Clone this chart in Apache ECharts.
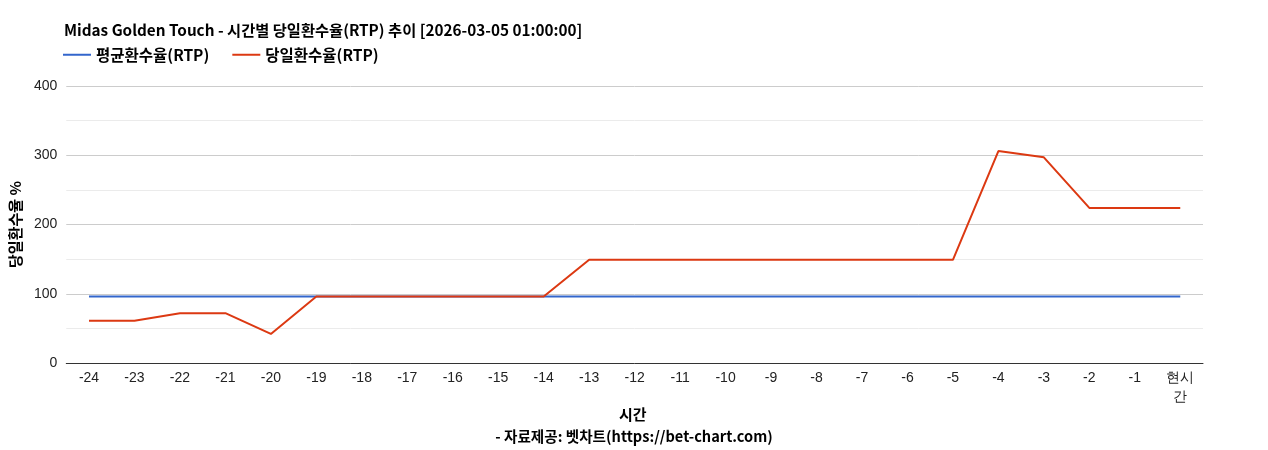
<!DOCTYPE html>
<html><head><meta charset="utf-8">
<script src="https://cdn.jsdelivr.net/npm/echarts@6/dist/echarts.min.js"></script>
<style>html,body{margin:0;padding:0;background:#fff}#c{width:1268px;height:450px}</style>
</head><body><div id="c"></div>
<script>
const categories = ['-24','-23','-22','-21','-20','-19','-18','-17','-16','-15','-14','-13','-12','-11','-10','-9','-8','-7','-6','-5','-4','-3','-2','-1','현시간'];
const avgRtp = [96,96,96,96,96,96,96,96,96,96,96,96,96,96,96,96,96,96,96,96,96,96,96,96,96];
const dailyRtp = [61,61,72,72,42,96,96,96,96,96,96,149,149,149,149,149,149,149,149,149,306,297,224,224,224];
const yTicks = [0,100,200,300,400];

const KR = '"Noto Sans CJK KR", "Noto Sans", sans-serif';
const AR = '"Liberation Sans", Arial, sans-serif';
const chart = echarts.init(document.getElementById('c'));
chart.setOption({
  animation: false,
  title: {
    text: 'Midas Golden Touch - 시간별 당일환수율(RTP) 추이 [2026-03-05 01:00:00]',
    left: 59, top: 18,
    textStyle: {fontFamily: KR, fontSize: 15.3, fontWeight: 'bold', color: '#000'}
  },
  legend: {
    left: 58, top: 42, itemWidth: 28, itemHeight: 2, itemGap: 23,
    icon: 'rect',
    textStyle: {fontFamily: KR, fontSize: 15.5, fontWeight: 'bold', color: '#000'},
    data: ['평균환수율(RTP)', '당일환수율(RTP)']
  },
  graphic: [{
    type: 'text', left: 619, top: 407,
    style: {text: '시간', font: 'bold 15px ' + KR, fill: '#000'}
  }, {
    type: 'text', left: 'center', top: 429,
    style: {text: '- 자료제공: 벳차트(https://bet-chart.com)', font: 'bold 14.6px ' + KR, fill: '#000'}
  }],
  grid: {left: 63, right: 65, top: 86, bottom: 87},
  xAxis: {
    type: 'category', data: categories, boundaryGap: true,
    axisLine: {lineStyle: {color: '#333', width: 1}},
    axisTick: {show: false},
    axisLabel: {
      interval: 0, fontFamily: AR, fontSize: 14, color: '#222', margin: 6, lineHeight: 19,
      formatter: v => v === '현시간' ? '현시\n간' : v
    }
  },
  yAxis: {
    type: 'value', min: yTicks[0], max: yTicks[yTicks.length - 1], interval: 100,
    name: '당일환수율 %', nameLocation: 'middle', nameGap: 41, nameRotate: 90,
    nameTextStyle: {fontFamily: KR, fontSize: 15, fontWeight: 'bold', color: '#000'},
    axisLine: {show: false}, axisTick: {show: false},
    axisLabel: {fontFamily: AR, fontSize: 14, color: '#222', margin: 9},
    splitLine: {lineStyle: {color: '#cccccc', width: 1}},
    minorTick: {show: false, splitNumber: 2},
    minorSplitLine: {show: true, lineStyle: {color: '#ebebeb', width: 1}}
  },
  series: [
    {name: '평균환수율(RTP)', type: 'line', data: avgRtp, symbol: 'none',
     lineStyle: {color: '#3366cc', width: 2}, itemStyle: {color: '#3366cc'}},
    {name: '당일환수율(RTP)', type: 'line', data: dailyRtp, symbol: 'none',
     lineStyle: {color: '#dc3912', width: 2}, itemStyle: {color: '#dc3912'}}
  ]
});
</script></body></html>
